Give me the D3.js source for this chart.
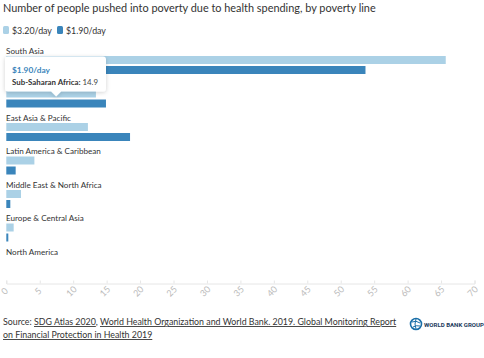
<!DOCTYPE html>
<html><head><meta charset="utf-8">
<script src="https://cdn.jsdelivr.net/npm/d3@7"></script>
<style>
html,body{margin:0;padding:0;background:#fff;}
svg{display:block;font-family:"Source Sans Pro",Lato,"Noto Sans",sans-serif;}
</style></head>
<body><svg id="c" width="484" height="358"></svg>
<script>
const regions = ["South Asia","Sub-Saharan Africa","East Asia & Pacific","Latin America & Caribbean","Middle East & North Africa","Europe & Central Asia","North America"];
const seriesNames = ["$3.20/day","$1.90/day"];
const values320 = [65.7, 13.4, 12.2, 4.2, 2.2, 1.1, 0];
const values190 = [53.7, 14.9, 18.5, 1.4, 0.6, 0.3, 0];
const xTicks = [0,5,10,15,20,25,30,35,40,45,50,55,60,65,70];
const colors = ["#abd1e6","#3a85bb"];

const svg = d3.select("#c");
function fit(sel, target){ const w = sel.node().getComputedTextLength(); const fs = parseFloat(sel.attr("font-size")); const n = fs*target/w; sel.attr("font-size", n); return n; }

// title
const title = svg.append("text").attr("x",3).attr("y",12).attr("font-size",14).attr("fill","#333")
  .text("Number of people pushed into poverty due to health spending, by poverty line");
fit(title, 373);

// legend
const lg = svg.append("g");
let lx = 3;
seriesNames.forEach((s,i)=>{
  lg.append("rect").attr("x",lx).attr("y",26).attr("width",6).attr("height",8).attr("rx",1.5).attr("fill",colors[i]);
  const t = lg.append("text").attr("x",lx+9).attr("y",34).attr("font-size",11).attr("fill","#333").text(s);
  fit(t, 40);
  lx += 54;
});

const x = d3.scaleLinear().domain([0,70]).range([6.3,474.5]);
const y = d3.scaleBand().domain(regions).range([44, 44+33.5*regions.length]);

const g = svg.append("g");
// find label font size from widest label
const probe = g.append("text").attr("font-size",10).text(regions[3]);
const labelFs = fit(probe, 95);
probe.remove();
regions.forEach((r,i)=>{
  const y0 = y(r);
  g.append("text").attr("x",6).attr("y",y0+9.5).attr("font-size",labelFs).attr("fill","#333").text(r);
  [values320[i], values190[i]].forEach((v,k)=>{
    g.append("rect").attr("x",x(0)).attr("y",y0+12+k*10).attr("width",Math.max(0,x(v)-x(0))).attr("height",8)
      .attr("fill",colors[k]);
  });
});

// axis
const ax = svg.append("g").attr("transform","translate(0,283.5)")
  .call(d3.axisBottom(x).tickValues(xTicks).tickSize(-3).tickPadding(0));
ax.select(".domain").attr("stroke","#e6e6e6");
ax.selectAll(".tick line").attr("stroke","#e6e6e6").attr("y2",-3);
ax.selectAll(".tick text").attr("fill","#bbb").attr("font-size",9).attr("font-family","Lato, sans-serif")
  .attr("text-anchor","middle").attr("dy",0).attr("y",0)
  .attr("transform","translate(0,10) rotate(-45)");

// tooltip
const ti = 1;
const tipX = (x(0)+x(values190[ti]))/2;
const tipY = y(regions[ti])+22-3;
const tt = svg.append("g");
const defs = svg.append("defs");
const f = defs.append("filter").attr("id","sh").attr("x","-20%").attr("y","-30%").attr("width","140%").attr("height","160%");
f.append("feDropShadow").attr("dx",0).attr("dy",1).attr("stdDeviation",2).attr("flood-color","#000").attr("flood-opacity",0.18);
const bx = 5, by = tipY-40, bw = 101, bh = 35;
tt.append("path").attr("filter","url(#sh)").attr("fill","#fff")
  .attr("d",`M${bx+3},${by} H${bx+bw-3} Q${bx+bw},${by} ${bx+bw},${by+3} V${by+bh-3} Q${bx+bw},${by+bh} ${bx+bw-3},${by+bh} H${tipX+5} L${tipX},${tipY} L${tipX-5},${by+bh} H${bx+3} Q${bx},${by+bh} ${bx},${by+bh-3} V${by+3} Q${bx},${by} ${bx+3},${by} Z`);
const t1 = tt.append("text").attr("x",12).attr("y",by+16).attr("font-size",11).attr("font-weight","bold").attr("fill","#3a85bb").text(seriesNames[1]);
fit(t1, 38);
const t2 = tt.append("text").attr("x",12).attr("y",by+28).attr("font-size",10).attr("fill","#333");
t2.append("tspan").attr("font-weight","bold").text(regions[ti]+": ");
t2.append("tspan").attr("fill","#444").text(values190[ti]);
fit(t2, 86);

// source
const src = svg.append("g").attr("fill","#333");
const s1 = src.append("text").attr("x",3).attr("y",325).attr("font-size",11);
s1.append("tspan").text("Source: ");
s1.append("tspan").attr("text-decoration","underline").text("SDG Atlas 2020");
s1.append("tspan").text(", ");
s1.append("tspan").attr("text-decoration","underline").text("World Health Organization and World Bank. 2019. Global Monitoring Report");
const sfs = fit(s1, 394);
src.append("text").attr("x",3).attr("y",338).attr("font-size",sfs)
  .attr("text-decoration","underline").text("on Financial Protection in Health 2019");

// logo
const lgo = svg.append("g").attr("transform","translate(416,324)");
lgo.append("circle").attr("r",5.5).attr("fill","none").attr("stroke","#1a6fa8").attr("stroke-width",1.6);
lgo.append("path").attr("d","M-4,-2 Q0,-4 4,-1 M-3,3 Q0,1 4,2 M0,-5 Q-2,0 0,5").attr("fill","none").attr("stroke","#1a6fa8").attr("stroke-width",1);
const lt = lgo.append("text").attr("x",8).attr("y",2.5).attr("font-size",7).attr("font-weight","bold").attr("fill","#1b3a5c")
  .attr("font-family","Roboto, sans-serif").text("WORLD BANK GROUP");
fit(lt, 60);
</script></body></html>
